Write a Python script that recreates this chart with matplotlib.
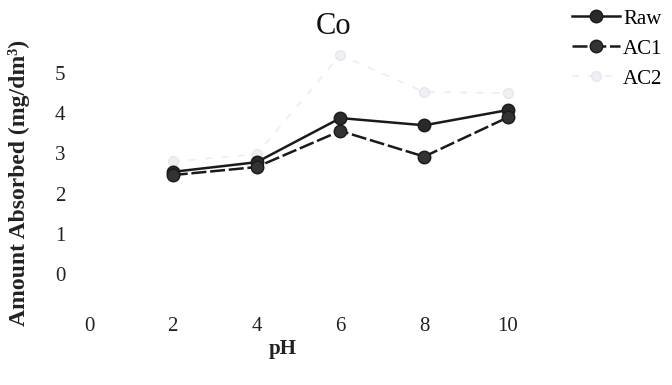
import matplotlib
matplotlib.use("Agg")
import matplotlib.pyplot as plt

# pH values and amount absorbed for each adsorbent
ph = [2, 4, 6, 8, 10]
raw = [2.54, 2.78, 3.88, 3.70, 4.08]
ac1 = [2.46, 2.66, 3.56, 2.92, 3.90]
ac2 = [2.80, 2.98, 5.45, 4.53, 4.50]

x_ticks = [0, 2, 4, 6, 8, 10]
y_ticks = [0, 1, 2, 3, 4, 5]

plt.rcParams["font.family"] = ["Liberation Serif", "DejaVu Serif"]

W, H = 672, 385
fig = plt.figure(figsize=(W / 100, H / 100), dpi=100)
# axes box: x from -0.5 to 10.5, y from -1 to 5.6
ax = fig.add_axes([68 / W, 1 - 314 / H, (529 - 68) / W, (314 - 49) / H])
ax.set_xlim(-0.5, 10.5)
ax.set_ylim(-1.0, 5.6)

dark = "#1a1a1a"
ax.plot(ph, raw, color=dark, lw=1.8, marker="o", ms=9, mfc="#2a2a2a",
        mec=dark, label="Raw", zorder=3)
ax.plot(ph, ac1, color=dark, lw=1.8, ls=(0, (6, 1.5)), marker="o", ms=9,
        mfc="#333333", mec=dark, label="AC1", zorder=3)
ax.plot(ph, ac2, color="#eeeef2", lw=1.3, ls=(0, (4, 5)), marker="o", ms=7,
        mfc="#f0f0f4", mec="#e6e6ec", label="AC2", zorder=2)

ax.set_xticks(x_ticks)
ax.set_xticklabels([str(v) for v in x_ticks])
ax.set_yticks(y_ticks)
ax.set_yticklabels([str(v) for v in y_ticks])
ax.tick_params(axis="both", length=0, labelsize=15, colors="#222222")
ax.tick_params(axis="x", pad=2)
ax.tick_params(axis="y", pad=2)
for s in ax.spines.values():
    s.set_visible(False)

fig.text(334 / W, 1 - 26 / H, "Co", ha="center", va="center", fontsize=22,
         color="#111111")
fig.text(283 / W, 1 - 349 / H, "pH", ha="center", va="center", fontsize=15,
         fontweight="bold", color="#222222")
fig.text(19 / W, 1 - 183 / H, "Amount Absorbed (mg/dm³)", rotation=90,
         ha="center", va="center", fontsize=17, fontweight="bold",
         color="#222222")

fig.legend(loc="upper left", bbox_to_anchor=(572 / W, 1 - 9 / H),
           frameon=False, fontsize=15, handlelength=2.3, handletextpad=0.15,
           labelspacing=0.5, borderaxespad=0, borderpad=0)

fig.savefig("out.png", dpi=100)
